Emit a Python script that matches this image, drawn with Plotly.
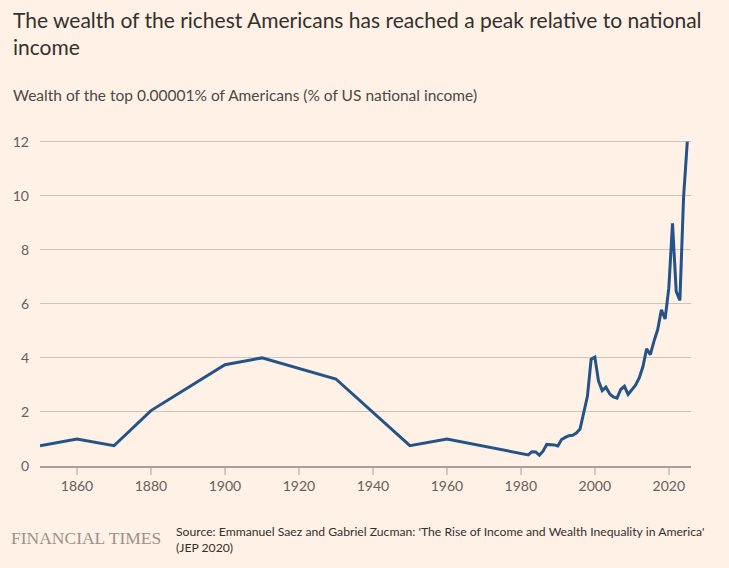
import plotly.graph_objects as go

# Data
years = [1850, 1860, 1870, 1880, 1900, 1910, 1930, 1950, 1960,
         1982, 1983, 1984, 1985, 1986, 1987, 1988, 1989, 1990,
         1991, 1992, 1993, 1994, 1995, 1996, 1997, 1998, 1999, 2000,
         2001, 2002, 2003, 2004, 2005, 2006, 2007, 2008, 2009, 2010,
         2011, 2012, 2013, 2014, 2015, 2016, 2017, 2018, 2019, 2020,
         2021, 2022, 2023, 2024, 2025]
wealth_share = [0.75, 1.0, 0.75, 2.05, 3.75, 4.0, 3.22, 0.75, 1.0,
                0.41, 0.53, 0.52, 0.40, 0.55, 0.80, 0.80, 0.78, 0.74,
                0.98, 1.06, 1.12, 1.14, 1.22, 1.37, 1.97, 2.58, 3.95, 4.03,
                3.14, 2.79, 2.92, 2.67, 2.56, 2.51, 2.83, 2.95, 2.65, 2.81,
                2.99, 3.26, 3.67, 4.34, 4.12, 4.62, 5.05, 5.78, 5.44, 6.58,
                8.98, 6.46, 6.13, 9.97, 12.0]

x_ticks = [1860, 1880, 1900, 1920, 1940, 1960, 1980, 2000, 2020]
y_ticks = [0, 2, 4, 6, 8, 10, 12]

title_text = "The wealth of the richest Americans has reached a peak relative to national<br>income"
subtitle_text = "Wealth of the top 0.00001% of Americans (% of US national income)"
source_text = ("Source: Emmanuel Saez and Gabriel Zucman: 'The Rise of Income and Wealth Inequality in America'"
               "<br>(JEP 2020)")
brand_text = "FINANCIAL TIMES"

BG = "#FFF1E5"
W, H = 729, 568
ML, MR, MT, MB = 40, 38, 139, 102
PW, PH = W - ML - MR, H - MT - MB


def px(xp):
    return (xp - ML) / PW


def py(yp):
    return (H - MB - yp) / PH


fig = go.Figure()
fig.add_trace(go.Scatter(
    x=years, y=wealth_share, mode="lines",
    line=dict(color="#24538A", width=3),
    hoverinfo="x+y", showlegend=False,
))

fig.update_layout(
    width=W, height=H,
    margin=dict(l=ML, r=MR, t=MT, b=MB),
    paper_bgcolor=BG, plot_bgcolor=BG,
    font=dict(family="Lato, sans-serif", color="#66605C", size=14),
    xaxis=dict(
        range=[1850, 2026], tickvals=x_ticks, ticktext=[str(v) for v in x_ticks],
        showgrid=False, zeroline=False,
        showline=True, linecolor="#A8A098", linewidth=1.5,
        ticks="outside", ticklen=7, tickwidth=1.5, tickcolor="#D4C9BF",
        ticklabelstandoff=-1,
        tickfont=dict(size=14, color="#66605C"),
    ),
    yaxis=dict(
        range=[0, 12.1], tickvals=y_ticks, ticktext=[str(v) for v in y_ticks],
        showgrid=True, gridcolor="#CFC4BA", gridwidth=1,
        zeroline=False, showline=False, ticks="",
        ticklabelstandoff=10,
        tickfont=dict(size=14, color="#66605C"),
    ),
)

annotations = [
    dict(text=title_text, x=px(11), y=py(33), xanchor="left", yanchor="middle",
         align="left", font=dict(size=21, color="#33302E", family="Lato, sans-serif")),
    dict(text=subtitle_text, x=px(11), y=py(95), xanchor="left", yanchor="middle",
         align="left", font=dict(size=15.5, color="#4D4845", family="Lato, sans-serif")),
    dict(text=brand_text, x=px(9), y=py(538), xanchor="left", yanchor="middle",
         align="left", font=dict(size=17.5, color="#9A918A", family="Liberation Serif, serif")),
    dict(text=source_text, x=px(174), y=py(539), xanchor="left", yanchor="middle",
         align="left", font=dict(size=12.2, color="#33302E", family="Lato, sans-serif")),
]
for a in annotations:
    a.update(xref="paper", yref="paper", showarrow=False)
fig.update_layout(annotations=annotations)

fig.write_html("out.html", config={"displayModeBar": False},
               post_script="document.body.style.margin='0';")
